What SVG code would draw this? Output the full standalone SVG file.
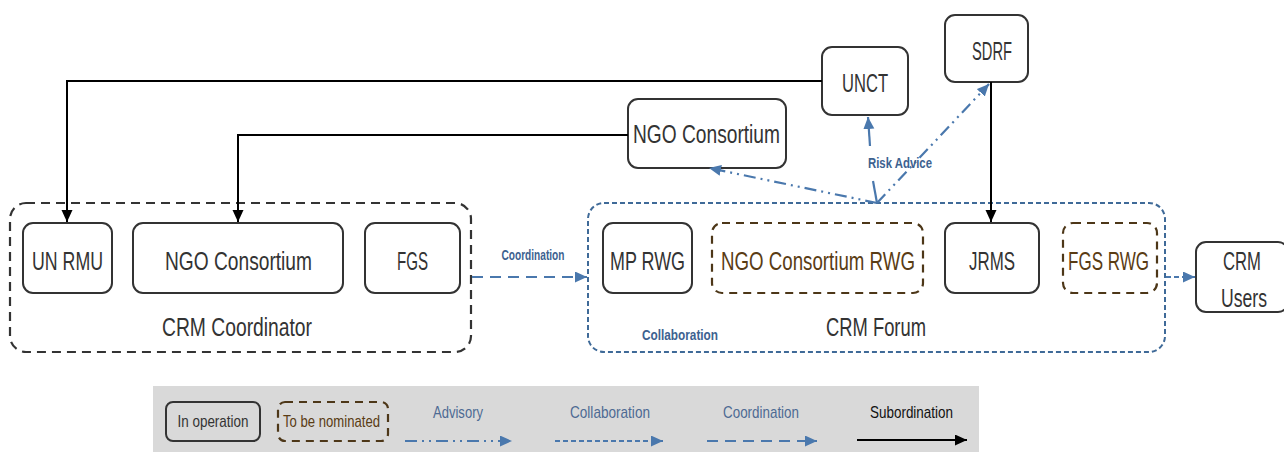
<svg xmlns="http://www.w3.org/2000/svg" width="1284" height="452" viewBox="0 0 1284 452">
  <style>
    .lbl { font-family: "Liberation Sans Narrow", "Liberation Sans", sans-serif; font-size: 25px; fill: #333333; text-anchor: middle; }
    .brown { fill: #5a3c14; }
    .small { font-family: "Liberation Sans Narrow", "Liberation Sans", sans-serif; font-size: 15px; font-weight: bold; fill: #3d6290; text-anchor: middle; }
    .leg { font-family: "Liberation Sans Narrow", "Liberation Sans", sans-serif; font-size: 17px; fill: #333333; text-anchor: middle; }
    .box { fill: #ffffff; stroke: #333333; stroke-width: 2; }
    .tbn { fill: none; stroke: #4d3718; stroke-width: 2.2; stroke-dasharray: 8 6; }
    .group-coord { fill: none; stroke: #333333; stroke-width: 2.2; stroke-dasharray: 9 6; }
    .group-forum { fill: none; stroke: #3f6a98; stroke-width: 2; stroke-dasharray: 5 3; }
    .sub { fill: none; stroke: #000000; stroke-width: 2; marker-end: url(#arrow-black); }
    .adv { fill: none; stroke: #4a78ad; stroke-width: 2.2; stroke-dasharray: 12 5 2 5 2 5; marker-end: url(#arrow-blue); }
    .col { fill: none; stroke: #4a78ad; stroke-width: 2; stroke-dasharray: 5 3; marker-end: url(#arrow-blue); }
    .crd { fill: none; stroke: #4a78ad; stroke-width: 2.2; stroke-dasharray: 11 7; marker-end: url(#arrow-blue); }
  </style>
  <defs>
    <marker id="arrow-black" markerUnits="userSpaceOnUse" markerWidth="13" markerHeight="12" refX="12" refY="5.5" orient="auto">
      <path d="M0,0 L12,5.5 L0,11 Z" fill="#000000"/>
    </marker>
    <marker id="arrow-blue" markerUnits="userSpaceOnUse" markerWidth="13" markerHeight="12" refX="12" refY="5.5" orient="auto">
      <path d="M0,0 L12,5.5 L0,11 Z" fill="#4a78ad"/>
    </marker>
  </defs>

  <rect width="1284" height="452" fill="#ffffff"/>

  <!-- group frames -->
  <g id="crm-coordinator">
    <rect class="group-coord" x="10" y="203" width="461" height="149" rx="16"/>
    <text class="lbl" x="237" y="336" textLength="150" lengthAdjust="spacingAndGlyphs">CRM Coordinator</text>
  </g>
  <g id="crm-forum">
    <rect class="group-forum" x="588" y="203" width="577" height="149" rx="16"/>
    <text class="lbl" x="876" y="336" textLength="100" lengthAdjust="spacingAndGlyphs">CRM Forum</text>
    <text class="small" x="680" y="340" textLength="76" lengthAdjust="spacingAndGlyphs">Collaboration</text>
  </g>

  <!-- nodes -->
  <g id="un-rmu">
    <rect class="box" x="23" y="223" width="89" height="70" rx="10"/>
    <text class="lbl" x="67.5" y="270" textLength="71" lengthAdjust="spacingAndGlyphs">UN RMU</text>
  </g>
  <g id="ngo-consortium-coord">
    <rect class="box" x="133" y="223" width="210" height="70" rx="10"/>
    <text class="lbl" x="238.5" y="270" textLength="147" lengthAdjust="spacingAndGlyphs">NGO Consortium</text>
  </g>
  <g id="fgs">
    <rect class="box" x="365" y="223" width="95" height="70" rx="10"/>
    <text class="lbl" x="412.5" y="270" textLength="31" lengthAdjust="spacingAndGlyphs">FGS</text>
  </g>
  <g id="mp-rwg">
    <rect class="box" x="603" y="223" width="89" height="70" rx="10"/>
    <text class="lbl" x="647.5" y="270" textLength="75" lengthAdjust="spacingAndGlyphs">MP RWG</text>
  </g>
  <g id="ngo-consortium-rwg">
    <rect class="tbn" x="712" y="223" width="211" height="70" rx="10"/>
    <text class="lbl brown" x="818" y="270" textLength="194" lengthAdjust="spacingAndGlyphs">NGO Consortium RWG</text>
  </g>
  <g id="jrms">
    <rect class="box" x="945" y="223" width="94" height="70" rx="10"/>
    <text class="lbl" x="992" y="270" textLength="46" lengthAdjust="spacingAndGlyphs">JRMS</text>
  </g>
  <g id="fgs-rwg">
    <rect class="tbn" x="1063" y="223" width="94" height="70" rx="10"/>
    <text class="lbl brown" x="1108.5" y="270" textLength="81" lengthAdjust="spacingAndGlyphs">FGS RWG</text>
  </g>
  <g id="crm-users">
    <rect class="box" x="1196" y="242" width="92" height="70" rx="10"/>
    <text class="lbl" x="1242" y="270" textLength="38" lengthAdjust="spacingAndGlyphs">CRM</text>
    <text class="lbl" x="1244" y="307" textLength="46" lengthAdjust="spacingAndGlyphs">Users</text>
  </g>
  <g id="unct">
    <rect class="box" x="822" y="47" width="86" height="68" rx="10"/>
    <text class="lbl" x="865" y="92" textLength="46" lengthAdjust="spacingAndGlyphs">UNCT</text>
  </g>
  <g id="ngo-consortium-top">
    <rect class="box" x="628" y="99" width="158" height="69" rx="10"/>
    <text class="lbl" x="706.5" y="143" textLength="147" lengthAdjust="spacingAndGlyphs">NGO Consortium</text>
  </g>
  <g id="sdrf">
    <rect class="box" x="945" y="15" width="83" height="67" rx="10"/>
    <text class="lbl" x="992" y="60" textLength="40" lengthAdjust="spacingAndGlyphs">SDRF</text>
  </g>

  <!-- connectors -->
  <g id="connectors">
    <path class="sub" d="M822,81 H67 V222"/>
    <path class="sub" d="M628,135 H238 V222"/>
    <path class="sub" d="M991,82 V222"/>
    <path class="adv" d="M877,203 L989,84"/>
    <path class="adv" d="M877,203 L709,168"/>
    <path fill="none" stroke="#4a78ad" stroke-width="2.2" d="M877,203 L873,181"/>
    <path fill="none" stroke="#4a78ad" stroke-width="2.2" marker-end="url(#arrow-blue)" d="M870,146 L868,117"/>
    <text class="small" x="900" y="168" textLength="64" lengthAdjust="spacingAndGlyphs">Risk Advice</text>
    <path class="crd" d="M472,277 H587"/>
    <text class="small" x="533" y="260" textLength="63" lengthAdjust="spacingAndGlyphs">Coordination</text>
    <path class="col" d="M1166,277 H1195"/>
  </g>

  <!-- legend -->
  <g id="legend">
    <rect x="153" y="386" width="826" height="66" fill="#d9d9d9"/>
    <rect class="box" x="166" y="402" width="94" height="39" rx="7" style="fill:none"/>
    <text class="leg" x="213" y="427" textLength="71" lengthAdjust="spacingAndGlyphs">In operation</text>
    <rect class="tbn" x="278" y="402" width="110" height="39" rx="7"/>
    <text class="leg" x="331.5" y="427" style="fill:#5a3c14" textLength="97" lengthAdjust="spacingAndGlyphs">To be nominated</text>
    <text class="leg" x="458" y="418" style="fill:#4d6a93" textLength="50" lengthAdjust="spacingAndGlyphs">Advisory</text>
    <path class="adv" d="M405,441 H512"/>
    <text class="leg" x="610" y="418" style="fill:#4d6a93" textLength="80" lengthAdjust="spacingAndGlyphs">Collaboration</text>
    <path class="col" d="M555,441 H663"/>
    <text class="leg" x="761" y="418" style="fill:#4d6a93" textLength="76" lengthAdjust="spacingAndGlyphs">Coordination</text>
    <path class="crd" d="M707,441 H817"/>
    <text class="leg" x="911.5" y="418" style="fill:#111111" textLength="83" lengthAdjust="spacingAndGlyphs">Subordination</text>
    <path class="sub" d="M857,440 H967"/>
  </g>
</svg>
